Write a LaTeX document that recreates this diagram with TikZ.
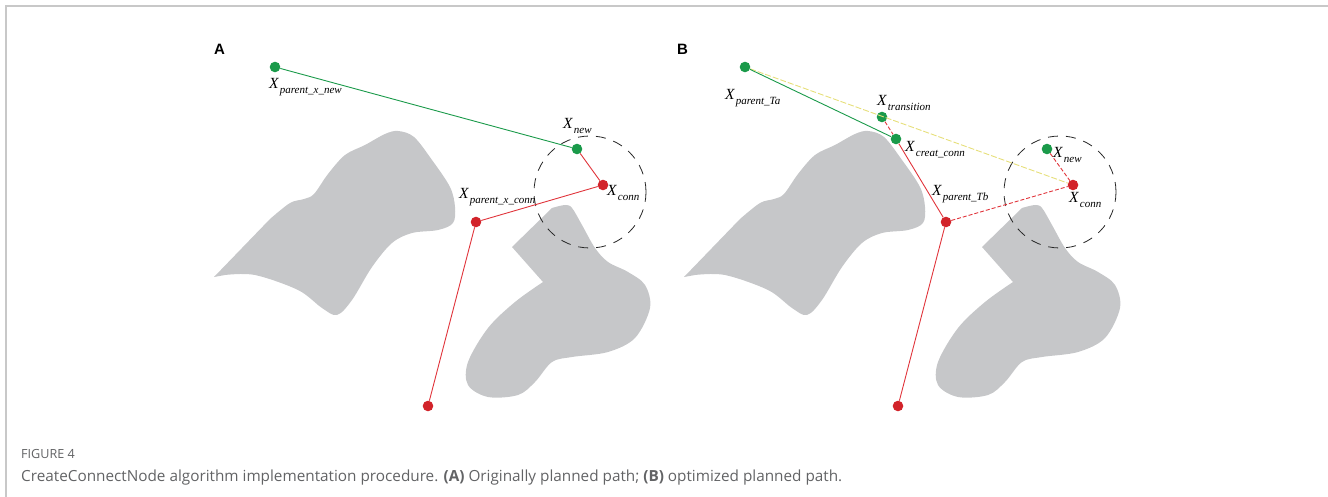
\documentclass[tikz,border=0pt]{standalone}
\usepackage{fontspec}
\setmainfont{Liberation Serif}
\newfontfamily\capfont{Open Sans}
\newfontfamily\panelfont{Liberation Sans}
\definecolor{obstc}{HTML}{C6C7C9}
\definecolor{gcol}{HTML}{1A9A4A}
\definecolor{rcol}{HTML}{D2232A}
\definecolor{rline}{HTML}{E0343B}
\definecolor{ycol}{HTML}{E6DF7A}
\definecolor{framec}{HTML}{C8C8C8}
\definecolor{capgray}{HTML}{626365}
\newcommand\lbl[1]{{\fontsize{15.5}{15.5}\selectfont\itshape X}\kern1.2pt\raisebox{-4.5pt}{\fontsize{11}{11}\selectfont\itshape #1}}
\newcommand\obstacles{%
  \fill[obstc] (214,277) -- plot[smooth, tension=0.55] coordinates {(270,219) (290,203) (304,199) (314,194) (328,174) (345,155) (365,145) (385,134) (398,131) (414,137) (432,160) (450,187) (455,207) (453,223) (438,230) (412,233) (392,243) (372,267) (352,300) (337,315) (322,308) (298,290) (255,275) (225,275)} -- cycle;
  \fill[obstc] (512,247) -- plot[smooth, tension=0.55] coordinates {(543,282) (515,302) (488,328) (468,362) (468,385) (488,397) (518,395) (535,382) (552,362) (572,357) (608,352) (635,338) (650,308) (645,285) (628,272) (608,262) (595,248) (582,225) (572,208) (565,205) (552,208)} -- cycle;}
\tikzset{
  gdot/.style={circle, fill=gcol, inner sep=0pt, minimum size=10.6pt},
  rdot/.style={circle, fill=rcol, inner sep=0pt, minimum size=10.6pt},
  gline/.style={draw=gcol, line width=0.9pt},
  rsolid/.style={draw=rline, line width=0.9pt},
  rdash/.style={draw=rline, line width=0.9pt, dash pattern=on 4pt off 2pt},
  ydash/.style={draw=ycol, line width=0.9pt, dash pattern=on 6pt off 2pt},
  dashcirc/.style={circle, draw=black!85, line width=0.8pt, dash pattern=on 10pt off 8pt, minimum size=112pt, inner sep=0pt},
  lab/.style={anchor=base west, inner sep=0pt},
  panel/.style={anchor=base west, inner sep=0pt, font=\panelfont\bfseries\fontsize{15}{15}\selectfont},
  captxt/.style={anchor=base west, inner sep=0pt, text=capgray}
}
\begin{document}
\begin{tikzpicture}[x=1pt,y=-1pt]
\useasboundingbox (0,0) rectangle (1328,497);
\draw[framec, line width=1.5pt] (6,497) -- (6,6) -- (1328,6);
% Panel A
\obstacles
\node[dashcirc] (ca) at (590,192) {};
\node[gdot] (a1) at (275,67) {};
\node[gdot] (a2) at (577,149) {};
\node[rdot] (a3) at (603,185) {};
\node[rdot] (a4) at (476,222) {};
\node[rdot] (a5) at (428,406) {};
\draw[gline] (a1) -- (a2);
\draw[rsolid] (a2) -- (a3);
\draw[rsolid] (a3) -- (a4);
\draw[rsolid] (a4) -- (a5);
\node[panel] (pA) at (214,55) {A};
\node[lab] (la1) at (269,89) {\lbl{parent\_x\_new}};
\node[lab] (la2) at (563,129) {\lbl{new}};
\node[lab] (la3) at (607,196) {\lbl{conn}};
\node[lab] (la4) at (459,199) {\lbl{parent\_x\_conn}};
% Panel B
\begin{scope}[xshift=470pt]
\obstacles
\end{scope}
\node[dashcirc] (cb) at (1060,192) {};
\node[gdot] (b1) at (745,67) {};
\node[gdot] (b2) at (882,117) {};
\node[gdot] (b3) at (896,139) {};
\node[rdot] (b4) at (946,222) {};
\node[gdot] (b5) at (1047,149) {};
\node[rdot] (b6) at (1073,185) {};
\node[rdot] (b7) at (898,406) {};
\draw[ydash] (b1) -- (b6);
\draw[gline] (b1) -- (b3);
\draw[rdash] (b2) -- (b3);
\draw[rsolid] (b3) -- (b4);
\draw[rdash] (b4) -- (b6);
\draw[rdash] (b5) -- (b6);
\draw[rsolid] (b4) -- (b7);
\node[panel] (pB) at (677,55) {B};
\node[lab] (lb1) at (725,100) {\lbl{parent\_Ta}};
\node[lab] (lb2) at (877,106) {\lbl{transition}};
\node[lab] (lb3) at (905,152) {\lbl{creat\_conn}};
\node[lab] (lb4) at (932,196) {\lbl{parent\_Tb}};
\node[lab] (lb5) at (1053,158) {\lbl{new}};
\node[lab] (lb6) at (1069,203) {\lbl{conn}};
% Caption
\node[captxt, font=\capfont\fontsize{12.6}{12.6}\selectfont] (fig) at (21,458) {FIGURE 4};
\node[captxt, font=\capfont\fontsize{15.3}{15.3}\selectfont] (cap) at (21,481) {CreateConnectNode algorithm implementation procedure. \textbf{(A)} Originally planned path; \textbf{(B)} optimized planned path.};
\end{tikzpicture}
\end{document}
